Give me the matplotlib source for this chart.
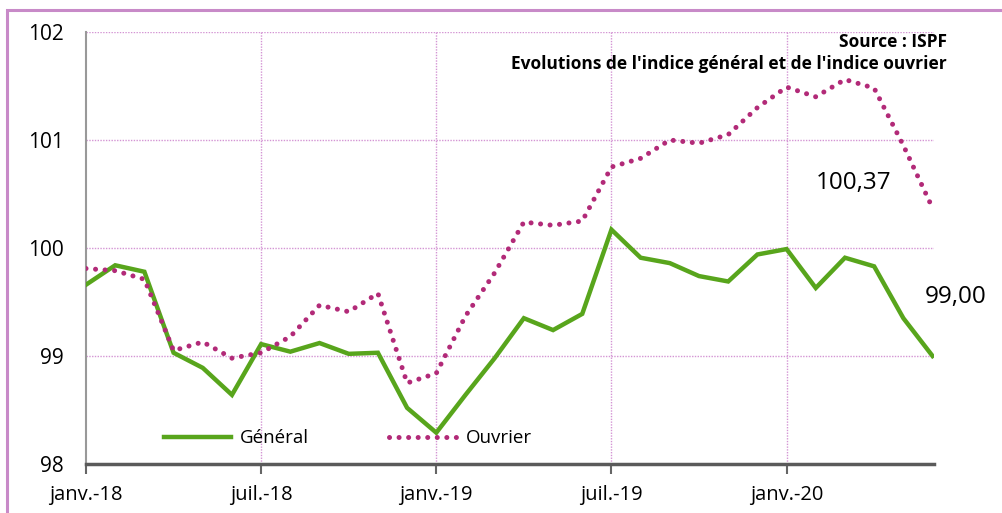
import matplotlib
matplotlib.use("Agg")
import matplotlib.pyplot as plt
from matplotlib.patches import Rectangle
from matplotlib.lines import Line2D

plt.rcParams["font.family"] = ["Open Sans", "DejaVu Sans"]

# monthly values, janv.-18 .. juin-20
GENERAL = [99.66, 99.84, 99.78, 99.03, 98.89, 98.64, 99.11, 99.04, 99.12, 99.02,
           99.03, 98.52, 98.29, 98.64, 98.98, 99.35, 99.24, 99.39, 100.17, 99.91,
           99.86, 99.74, 99.69, 99.94, 99.99, 99.63, 99.91, 99.83, 99.35, 99.00]
OUVRIER = [99.81, 99.79, 99.71, 99.05, 99.13, 98.98, 99.03, 99.18, 99.47, 99.41,
           99.58, 98.75, 98.84, 99.37, 99.77, 100.24, 100.21, 100.25, 100.75, 100.83,
           101.00, 100.97, 101.05, 101.30, 101.49, 101.40, 101.56, 101.48, 100.95, 100.37]
TICK_POS = [0, 6, 12, 18, 24]
TICK_LABELS = ["janv.-18", "juil.-18", "janv.-19", "juil.-19", "janv.-20"]

GREEN = "#58a51c"
PINK = "#b22a78"
GRID = "#d495d4"
DOTS = (0, (0.01, 1.9))

W, H = 1002, 513
fig = plt.figure(figsize=(W / 100, H / 100), dpi=100)
ax = fig.add_axes([86 / W, (H - 464) / H, (934 - 86) / W, (464 - 32) / H])

x = range(len(GENERAL))
ax.plot(x, GENERAL, color=GREEN, lw=3.2, solid_joinstyle="miter", zorder=3)
ax.plot(x, OUVRIER, color=PINK, lw=3.6, linestyle=DOTS,
        dash_capstyle="round", zorder=3)

ax.set_xlim(0, 29.05)
ax.set_ylim(98, 102)
ax.set_yticks([98, 99, 100, 101, 102])
ax.set_yticklabels(["98", "99", "100", "101", "102"], fontsize=15)
ax.set_xticks(TICK_POS)
ax.set_xticklabels(TICK_LABELS, fontsize=14.5)
ax.tick_params(axis="y", length=0, pad=16)
ax.tick_params(axis="x", length=7, width=1.5, color="#666666", pad=8)

for v in [99, 100, 101, 102]:
    ax.axhline(v, color=GRID, lw=1.0, linestyle=(0, (1, 1)), zorder=1)
for p in TICK_POS[1:]:
    ax.axvline(p, color=GRID, lw=1.0, linestyle=(0, (1, 1)), zorder=1)

for s in ["top", "right"]:
    ax.spines[s].set_visible(False)
ax.spines["left"].set_color("#999999")
ax.spines["left"].set_linewidth(1.5)
ax.spines["bottom"].set_color("#5a5a5a")
ax.spines["bottom"].set_linewidth(2.5)

handles = [
    Line2D([], [], color=GREEN, lw=3.2),
    Line2D([], [], color=PINK, lw=3.6, linestyle=DOTS, dash_capstyle="round"),
]
leg = ax.legend(handles, ["Général", "Ouvrier"], ncol=2, frameon=False,
                loc="lower left", bbox_to_anchor=(0.072, 0.0), fontsize=13.5,
                handlelength=3.6, handletextpad=0.45, columnspacing=4.3)

fig.text(947 / W, 1 - 42 / H, "Source : ISPF", ha="right", va="center",
         fontsize=12.5, fontweight="bold")
fig.text(947 / W, 1 - 64 / H, "Evolutions de l'indice général et de l'indice ouvrier",
         ha="right", va="center", fontsize=12.5, fontweight="bold")
ax.annotate("100,37", xy=(29, OUVRIER[-1]), xytext=(854 / W, 1 - 183 / H),
            textcoords="figure fraction", ha="center", va="center", fontsize=17.5)
ax.annotate("99,00", xy=(29, GENERAL[-1]), xytext=(956 / W, 1 - 297 / H),
            textcoords="figure fraction", ha="center", va="center", fontsize=17.5)

fig.add_artist(Rectangle((7 / W, -0.05), 1.1, 1 - 10 / H + 0.05, transform=fig.transFigure,
                         fill=False, edgecolor="#c88ac8", lw=2.2))

fig.savefig("out.png", dpi=100)
